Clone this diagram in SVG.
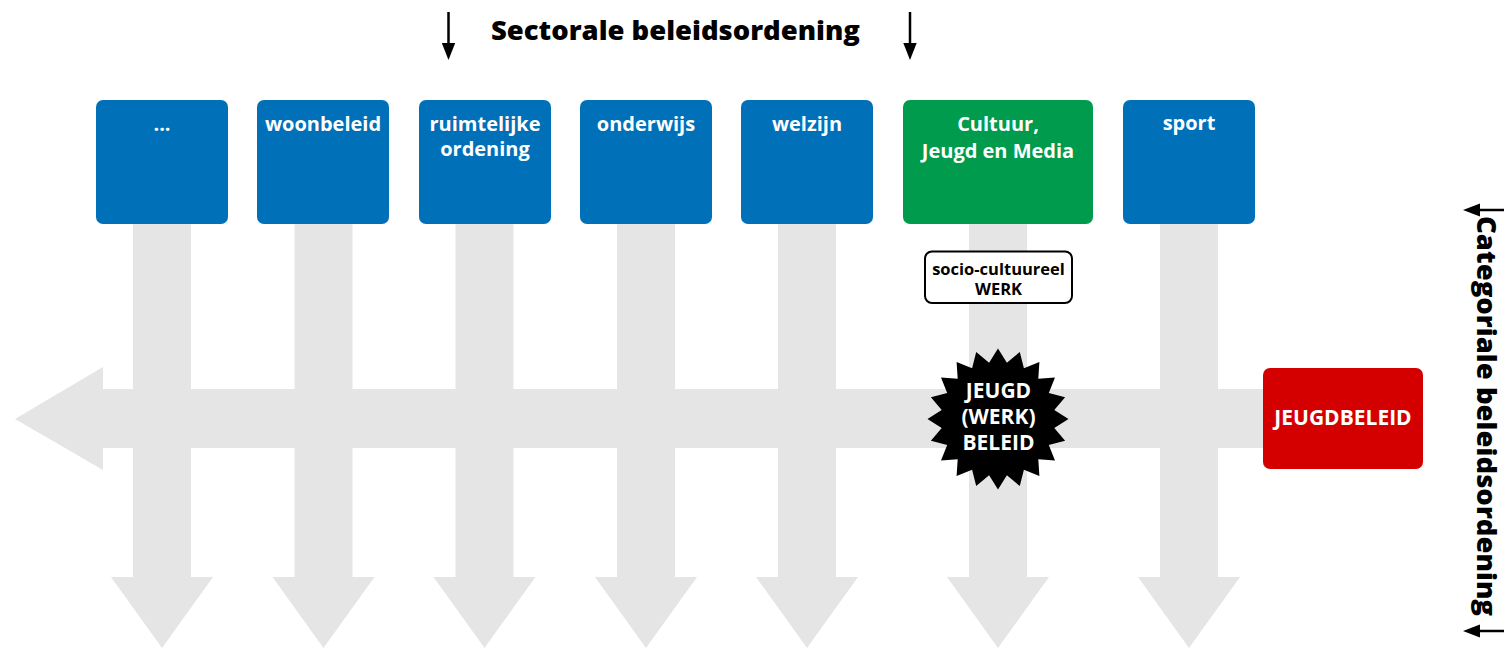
<svg xmlns="http://www.w3.org/2000/svg" width="1504" height="648" viewBox="0 0 1504 648">
<style>
.grey{fill:#e5e5e5}
.box{stroke:none}
.blue{fill:#0070b9}
.green{fill:#009b4c}
.red{fill:#d40000}
.lbl{font-family:"Open Sans","Noto Sans","Liberation Sans",sans-serif;font-weight:700;font-size:20px;fill:#fff;text-anchor:middle}
.burst{font-family:"Open Sans","Noto Sans","Liberation Sans",sans-serif;font-weight:700;font-size:21px;fill:#fff;text-anchor:middle}
.small{font-family:"Open Sans","Noto Sans","Liberation Sans",sans-serif;font-weight:700;font-size:16.5px;fill:#000;text-anchor:middle}
.title{font-family:"Open Sans","Noto Sans","Liberation Sans",sans-serif;font-weight:800;font-size:27px;fill:#000}
.arr{stroke:#000;stroke-width:2.5;fill:none}
</style>
<g id="connectors">
  <rect class="grey" x="100" y="389" width="1165" height="59"/>
  <polygon class="grey" points="15,419 103,367 103,470"/>
  <g id="col1"><rect class="grey" x="133" y="222" width="58" height="356"/><polygon class="grey" points="111,577 213,577 162,648"/></g>
  <g id="col2"><rect class="grey" x="294.5" y="222" width="58" height="356"/><polygon class="grey" points="272.5,577 374.5,577 323.5,648"/></g>
  <g id="col3"><rect class="grey" x="455.5" y="222" width="58" height="356"/><polygon class="grey" points="433.5,577 535.5,577 484.5,648"/></g>
  <g id="col4"><rect class="grey" x="617" y="222" width="58" height="356"/><polygon class="grey" points="595,577 697,577 646,648"/></g>
  <g id="col5"><rect class="grey" x="778" y="222" width="58" height="356"/><polygon class="grey" points="756,577 858,577 807,648"/></g>
  <g id="col6"><rect class="grey" x="969" y="222" width="58" height="356"/><polygon class="grey" points="947,577 1049,577 998,648"/></g>
  <g id="col7"><rect class="grey" x="1160" y="222" width="58" height="356"/><polygon class="grey" points="1138,577 1240,577 1189,648"/></g>
</g>
<g id="title">
  <text class="title" x="491" y="40" textLength="369" lengthAdjust="spacingAndGlyphs">Sectorale beleidsordening</text>
  <line class="arr" x1="448.5" y1="12" x2="448.5" y2="48"/>
  <polygon points="441.8,43 455.2,43 448.5,60" fill="#000"/>
  <line class="arr" x1="910" y1="12" x2="910" y2="48"/>
  <polygon points="903.3,43 916.7,43 910,60" fill="#000"/>
</g>
<g id="side-title">
  <text class="title" transform="translate(1477,216) rotate(90)" x="0" y="0" textLength="400" lengthAdjust="spacingAndGlyphs">Categoriale beleidsordening</text>
  <line class="arr" x1="1476" y1="210" x2="1504" y2="210"/>
  <polygon points="1463,210 1480,203.5 1480,216.5" fill="#000"/>
  <line class="arr" x1="1476" y1="631" x2="1504" y2="631"/>
  <polygon points="1463,631 1480,624.5 1480,637.5" fill="#000"/>
</g>
<g id="n-dots"><rect class="box blue" x="96" y="100" width="132" height="124" rx="7"/><text class="lbl" x="162" y="131">...</text></g>
<g id="n-woonbeleid"><rect class="box blue" x="257" y="100" width="132" height="124" rx="7"/><text class="lbl" x="323" y="131">woonbeleid</text></g>
<g id="n-ruimtelijke"><rect class="box blue" x="419" y="100" width="132" height="124" rx="7"/><text class="lbl" x="485" y="131">ruimtelijke</text><text class="lbl" x="485" y="155.5">ordening</text></g>
<g id="n-onderwijs"><rect class="box blue" x="580" y="100" width="132" height="124" rx="7"/><text class="lbl" x="646" y="131">onderwijs</text></g>
<g id="n-welzijn"><rect class="box blue" x="741" y="100" width="132" height="124" rx="7"/><text class="lbl" x="807" y="131">welzijn</text></g>
<g id="n-cultuur"><rect class="box green" x="903" y="100" width="190" height="124" rx="7"/><text class="lbl" x="998" y="131">Cultuur,</text><text class="lbl" x="998" y="158">Jeugd en Media</text></g>
<g id="n-sport"><rect class="box blue" x="1123" y="100" width="132" height="124" rx="7"/><text class="lbl" x="1189" y="130">sport</text></g>
<g id="n-socio"><rect x="925" y="251.5" width="147" height="51.5" rx="7" fill="#fff" stroke="#000" stroke-width="2"/><text class="small" x="998.5" y="275">socio-cultuureel</text><text class="small" x="998.5" y="295">WERK</text></g>
<g id="n-burst">
  <polygon fill="#000" points="998,348.5 1006.9,362.7 1019.8,351.9 1023.9,368.2 1039.4,362 1038.3,378.7 1055,377.6 1048.8,393.1 1065.1,397.2 1054.3,410.1 1068.5,419 1054.3,427.9 1065.1,440.8 1048.8,444.9 1055,460.4 1038.3,459.3 1039.4,476 1023.9,469.8 1019.8,486.1 1006.9,475.3 998,489.5 989.1,475.3 976.2,486.1 972.1,469.8 956.6,476 957.7,459.3 941,460.4 947.2,444.9 930.9,440.8 941.7,427.9 927.5,419 941.7,410.1 930.9,397.2 947.2,393.1 941,377.6 957.7,378.7 956.6,362 972.1,368.2 976.2,351.9 989.1,362.7"/>
  <text class="burst" x="998.5" y="398">JEUGD</text>
  <text class="burst" x="998.5" y="424">(WERK)</text>
  <text class="burst" x="998.5" y="450">BELEID</text>
</g>
<g id="n-jeugdbeleid"><rect class="box red" x="1263" y="368" width="160" height="101" rx="7"/><text class="burst" x="1343" y="425">JEUGDBELEID</text></g>
</svg>
